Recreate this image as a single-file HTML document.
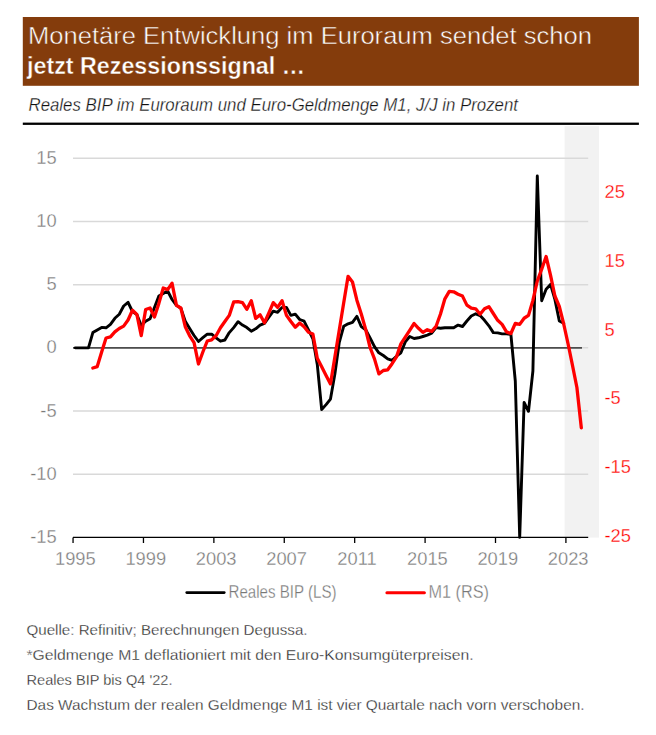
<!DOCTYPE html>
<html><head><meta charset="utf-8">
<style>
html,body{margin:0;padding:0;background:#fff;width:656px;height:735px;overflow:hidden;}
body{position:relative;font-family:"Liberation Sans",sans-serif;}
svg{position:absolute;left:0;top:0;font-family:"Liberation Sans",sans-serif;}
.t1{font-size:24.8px;fill:#fff;stroke:#843c0c;stroke-width:0.5px;}
.t2{font-size:24.0px;fill:#fff;font-weight:bold;stroke:#843c0c;stroke-width:0.4px;}
.sub{font-size:18.0px;fill:#111;font-style:italic;stroke:#fff;stroke-width:0.3px;}
.ax{font-size:18.3px;fill:#7a7a7a;stroke:#fff;stroke-width:0.3px;}
.ax.r{fill:#ff0000;}
.lg{font-size:18.4px;fill:#777;stroke:#fff;stroke-width:0.3px;}
.fn{font-size:15.5px;fill:#222;stroke:#fff;stroke-width:0.3px;}
</style></head><body>
<svg width="656" height="735" viewBox="0 0 656 735">
<rect x="564.6" y="126.2" width="34.4" height="411.4" fill="#f2f2f2"/>
<line x1="73" x2="588.2" y1="158.30" y2="158.30" stroke="#d9d9d9" stroke-width="1.5"/>
<line x1="73" x2="588.2" y1="221.50" y2="221.50" stroke="#d9d9d9" stroke-width="1.5"/>
<line x1="73" x2="588.2" y1="284.70" y2="284.70" stroke="#d9d9d9" stroke-width="1.5"/>
<line x1="73" x2="588.2" y1="411.00" y2="411.00" stroke="#d9d9d9" stroke-width="1.5"/>
<line x1="73" x2="588.2" y1="474.20" y2="474.20" stroke="#d9d9d9" stroke-width="1.5"/>
<line x1="73" x2="588.2" y1="347.85" y2="347.85" stroke="#d9d9d9" stroke-width="1.5"/>
<line x1="73" x2="582" y1="347.85" y2="347.85" stroke="#4d4d4d" stroke-width="1.6"/>
<line x1="73" x2="588.2" y1="537.40" y2="537.40" stroke="#000" stroke-width="1.3"/>
<line x1="73.05" x2="73.05" y1="537.40" y2="543" stroke="#000" stroke-width="1.3"/>
<line x1="143.46" x2="143.46" y1="537.40" y2="543" stroke="#000" stroke-width="1.3"/>
<line x1="213.87" x2="213.87" y1="537.40" y2="543" stroke="#000" stroke-width="1.3"/>
<line x1="284.27" x2="284.27" y1="537.40" y2="543" stroke="#000" stroke-width="1.3"/>
<line x1="354.68" x2="354.68" y1="537.40" y2="543" stroke="#000" stroke-width="1.3"/>
<line x1="425.09" x2="425.09" y1="537.40" y2="543" stroke="#000" stroke-width="1.3"/>
<line x1="495.50" x2="495.50" y1="537.40" y2="543" stroke="#000" stroke-width="1.3"/>
<line x1="565.91" x2="565.91" y1="537.40" y2="543" stroke="#000" stroke-width="1.3"/>
<path d="M75.25,347.85 L79.65,347.85 L84.05,347.85 L88.45,347.85 L92.85,332.60 L97.25,329.90 L101.65,327.40 L106.05,327.80 L110.45,324.40 L114.85,318.30 L119.26,314.20 L123.66,306.00 L128.06,302.30 L132.46,311.50 L136.86,314.50 L141.26,325.50 L145.66,321.30 L150.06,318.80 L154.46,307.50 L158.86,296.00 L163.26,293.50 L167.66,291.00 L172.06,299.50 L176.46,305.40 L180.86,308.20 L185.26,321.20 L189.66,328.50 L194.06,335.50 L198.46,341.50 L202.86,337.70 L207.27,334.20 L211.67,334.20 L216.07,337.80 L220.47,341.20 L224.87,340.00 L229.27,332.60 L233.67,327.60 L238.07,321.70 L242.47,325.10 L246.87,327.60 L251.27,331.20 L255.67,328.80 L260.07,325.10 L264.47,323.30 L268.87,317.20 L273.27,311.10 L277.67,312.30 L282.07,307.40 L286.47,307.40 L290.87,315.40 L295.28,314.10 L299.68,319.50 L304.08,321.20 L308.48,329.80 L312.88,338.80 L317.28,364.40 L321.68,409.50 L326.08,404.60 L330.48,399.10 L334.88,374.10 L339.28,342.40 L343.68,326.30 L348.08,323.80 L352.48,322.30 L356.88,316.30 L361.28,326.60 L365.68,329.80 L370.08,338.00 L374.48,346.70 L378.88,352.80 L383.29,355.50 L387.69,358.90 L392.09,360.30 L396.49,356.20 L400.89,352.80 L405.29,341.90 L409.69,336.50 L414.09,338.50 L418.49,337.80 L422.89,336.50 L427.29,335.10 L431.69,333.10 L436.09,327.60 L440.49,328.30 L444.89,327.70 L449.29,327.80 L453.69,327.80 L458.09,325.10 L462.49,326.50 L466.89,321.00 L471.30,316.00 L475.70,313.80 L480.10,315.60 L484.50,320.30 L488.90,325.80 L493.30,332.60 L497.70,332.90 L502.10,333.90 L506.50,333.90 L510.90,334.50 L515.30,381.00 L519.70,537.40 L524.10,402.50 L528.50,411.30 L532.90,371.00 L537.30,176.00 L541.70,300.80 L546.10,289.20 L550.50,284.40 L554.90,299.40 L559.31,321.00 L563.71,323.20" fill="none" stroke="#000" stroke-width="2.9" stroke-linejoin="round" stroke-linecap="round"/>
<path d="M92.85,368.00 L97.25,366.60 L101.65,352.00 L106.05,338.00 L110.45,336.90 L114.85,331.90 L119.26,328.50 L123.66,326.10 L128.06,320.00 L132.46,310.30 L136.86,314.50 L141.26,335.60 L145.66,309.50 L150.06,308.00 L154.46,317.10 L158.86,303.40 L163.26,288.00 L167.66,289.60 L172.06,283.20 L176.46,305.40 L180.86,308.00 L185.26,326.70 L189.66,335.80 L194.06,342.70 L198.46,364.00 L202.86,352.00 L207.27,341.00 L211.67,339.80 L216.07,335.80 L220.47,327.80 L224.87,321.50 L229.27,315.40 L233.67,301.95 L238.07,301.70 L242.47,302.60 L246.87,309.30 L251.27,300.70 L255.67,318.40 L260.07,314.75 L264.47,322.70 L268.87,312.90 L273.27,302.60 L277.67,307.40 L282.07,300.70 L286.47,315.40 L290.87,321.50 L295.28,327.20 L299.68,323.00 L304.08,326.70 L308.48,332.20 L312.88,334.00 L317.28,358.30 L321.68,366.80 L326.08,375.40 L330.48,383.90 L334.88,357.00 L339.28,330.00 L343.68,303.00 L348.08,276.30 L352.48,282.00 L356.88,300.20 L361.28,314.00 L365.68,329.50 L370.08,347.50 L374.48,358.90 L378.88,373.90 L383.29,370.50 L387.69,369.80 L392.09,363.70 L396.49,356.90 L400.89,343.90 L405.29,337.10 L409.69,330.30 L414.09,323.50 L418.49,328.30 L422.89,332.40 L427.29,329.70 L431.69,331.40 L436.09,326.30 L440.49,314.00 L444.89,298.80 L449.29,291.30 L453.69,291.80 L458.09,294.20 L462.49,296.10 L466.89,305.10 L471.30,308.10 L475.70,308.80 L480.10,314.20 L484.50,308.80 L488.90,306.70 L493.30,313.50 L497.70,320.30 L502.10,324.40 L506.50,331.90 L510.90,333.50 L515.30,323.30 L519.70,324.40 L524.10,318.25 L528.50,315.40 L532.90,300.40 L537.30,281.00 L541.70,269.20 L546.10,256.50 L550.50,275.20 L554.90,296.00 L559.31,306.50 L563.71,324.00 L568.11,344.00 L572.51,365.50 L576.91,387.50 L581.31,427.80" fill="none" stroke="#ff0000" stroke-width="3.3" stroke-linejoin="round" stroke-linecap="round"/>
<text x="56.6" y="163.90" text-anchor="end" class="ax">15</text>
<text x="56.6" y="227.10" text-anchor="end" class="ax">10</text>
<text x="56.6" y="290.30" text-anchor="end" class="ax">5</text>
<text x="56.6" y="353.45" text-anchor="end" class="ax">0</text>
<text x="56.6" y="416.60" text-anchor="end" class="ax">-5</text>
<text x="56.6" y="479.80" text-anchor="end" class="ax">-10</text>
<text x="56.6" y="543.00" text-anchor="end" class="ax">-15</text>
<text x="604.5" y="198.00" class="ax r">25</text>
<text x="604.5" y="266.80" class="ax r">15</text>
<text x="604.5" y="335.60" class="ax r">5</text>
<text x="604.5" y="404.40" class="ax r">-5</text>
<text x="604.5" y="473.20" class="ax r">-15</text>
<text x="604.5" y="542.00" class="ax r">-25</text>
<text x="75.35" y="565.3" text-anchor="middle" class="ax">1995</text>
<text x="145.76" y="565.3" text-anchor="middle" class="ax">1999</text>
<text x="216.17" y="565.3" text-anchor="middle" class="ax">2003</text>
<text x="286.57" y="565.3" text-anchor="middle" class="ax">2007</text>
<text x="356.98" y="565.3" text-anchor="middle" class="ax">2011</text>
<text x="427.39" y="565.3" text-anchor="middle" class="ax">2015</text>
<text x="497.80" y="565.3" text-anchor="middle" class="ax">2019</text>
<text x="568.21" y="565.3" text-anchor="middle" class="ax">2023</text>
<line x1="186.7" x2="224.3" y1="592.6" y2="592.6" stroke="#000" stroke-width="2.6" stroke-linecap="round"/>
<text x="228.50" y="597.9" class="lg" textLength="108.00" lengthAdjust="spacingAndGlyphs">Reales BIP (LS)</text>
<line x1="386.9" x2="424.4" y1="592.7" y2="592.7" stroke="#ff0000" stroke-width="3" stroke-linecap="round"/>
<text x="428.50" y="597.9" class="lg" textLength="60.50" lengthAdjust="spacingAndGlyphs">M1 (RS)</text>
<rect x="22.8" y="17" width="616.1" height="68.8" fill="#843c0c"/>
<text x="28.00" y="44" class="t1" textLength="564.00" lengthAdjust="spacingAndGlyphs">Monetäre Entwicklung im Euroraum sendet schon</text>
<text x="27.00" y="74.4" class="t2" textLength="278.00" lengthAdjust="spacingAndGlyphs">jetzt Rezessionssignal …</text>
<text x="28.50" y="110.6" class="sub" textLength="489.50" lengthAdjust="spacingAndGlyphs">Reales BIP im Euroraum und Euro-Geldmenge M1, J/J in Prozent</text>
<rect x="22.8" y="122.6" width="616.1" height="2.3" fill="#000"/>
<text x="26.50" y="634.80" class="fn" textLength="281.00" lengthAdjust="spacingAndGlyphs">Quelle: Refinitiv; Berechnungen Degussa.</text>
<text x="26.50" y="659.70" class="fn" textLength="447.00" lengthAdjust="spacingAndGlyphs">*Geldmenge M1 deflationiert mit den Euro-Konsumgüterpreisen.</text>
<text x="26.50" y="684.60" class="fn" textLength="146.00" lengthAdjust="spacingAndGlyphs">Reales BIP bis Q4 &#39;22.</text>
<text x="26.50" y="709.50" class="fn" textLength="558.00" lengthAdjust="spacingAndGlyphs">Das Wachstum der realen Geldmenge M1 ist vier Quartale nach vorn verschoben.</text>
</svg>
</body></html>
